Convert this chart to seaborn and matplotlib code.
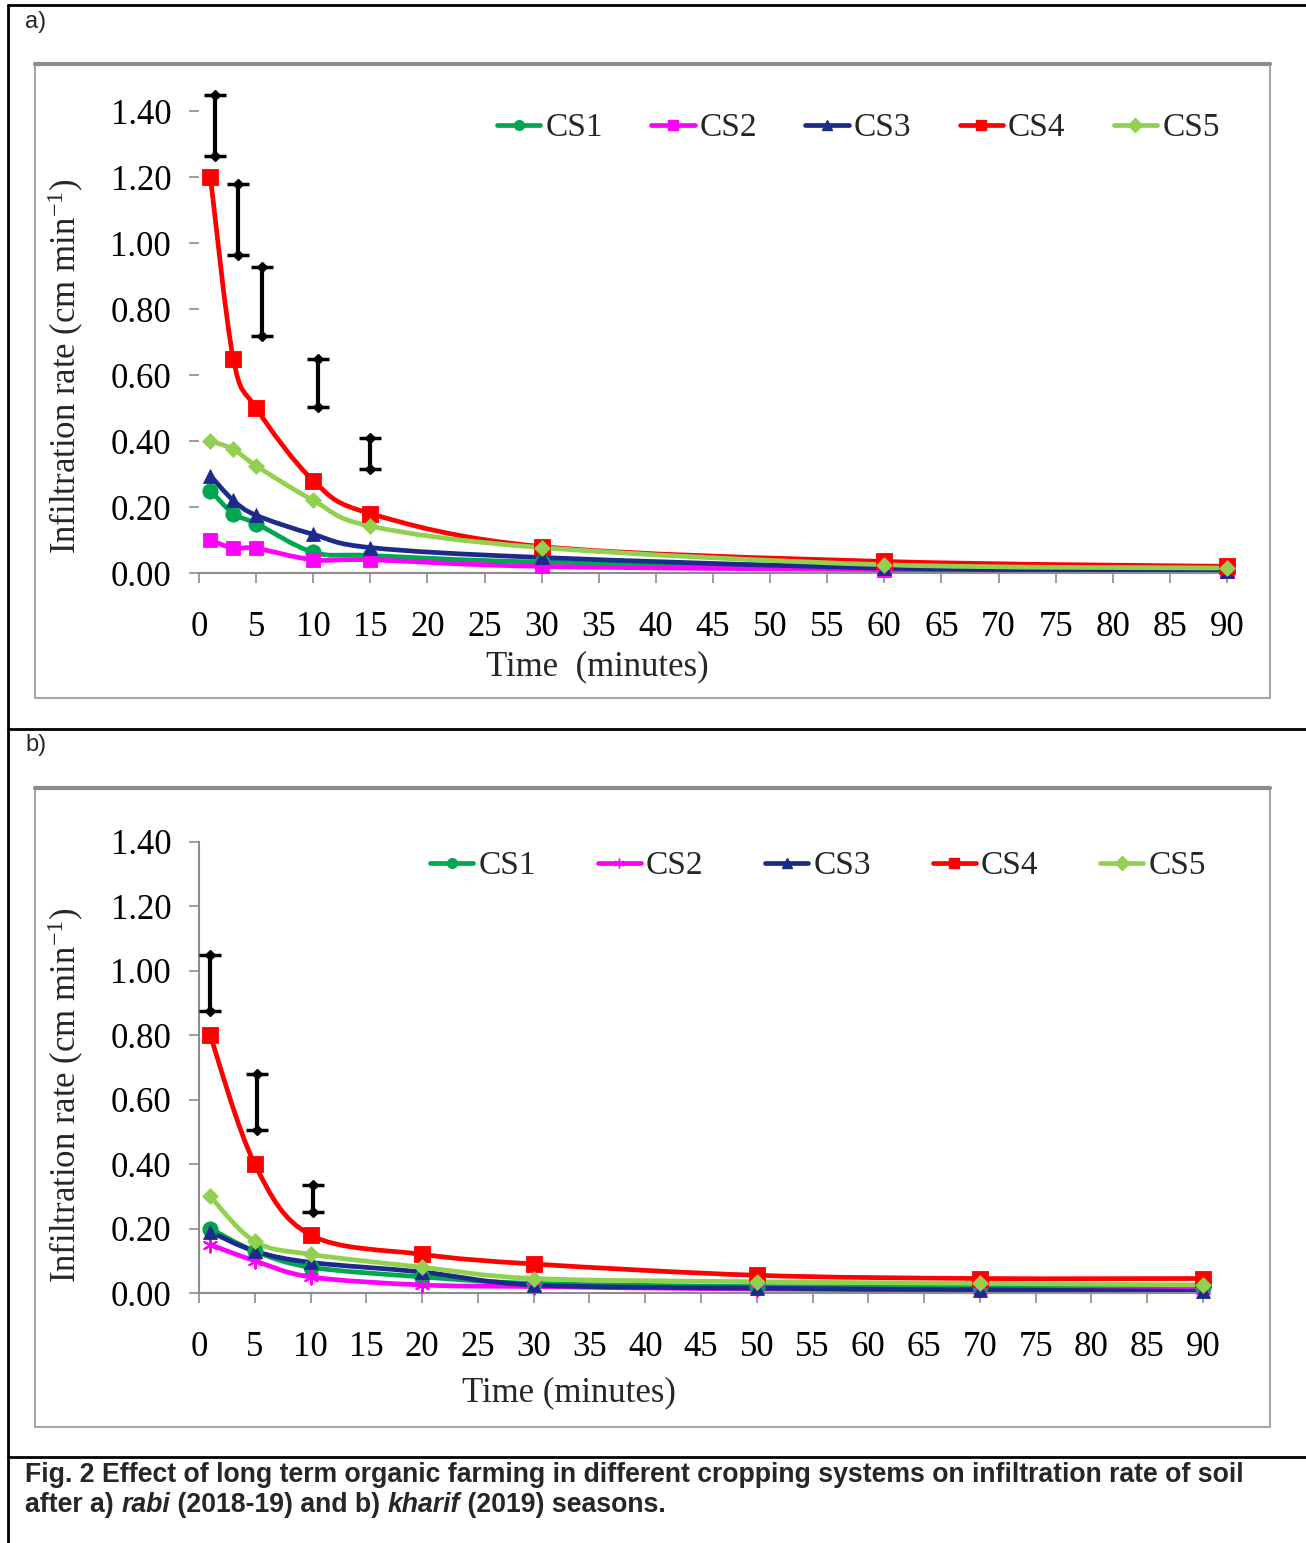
import numpy as np
import matplotlib
matplotlib.use("Agg")
import matplotlib.pyplot as plt
import seaborn as sns
import pandas as pd
from matplotlib.path import Path
from matplotlib.patches import PathPatch, Rectangle
from matplotlib.lines import Line2D

# ---------------- data ----------------
series_names = ["CS1", "CS2", "CS3", "CS4", "CS5"]

time_a = [1, 3, 5, 10, 15, 30, 60, 90]
cs1_a = [0.25, 0.18, 0.15, 0.063, 0.053, 0.033, 0.02, 0.01]
cs2_a = [0.10, 0.075, 0.075, 0.04, 0.04, 0.02, 0.01, 0.005]
cs3_a = [0.295, 0.22, 0.175, 0.117, 0.077, 0.047, 0.015, 0.005]
cs4_a = [1.20, 0.65, 0.50, 0.28, 0.18, 0.08, 0.035, 0.02]
cs5_a = [0.40, 0.375, 0.325, 0.22, 0.142, 0.077, 0.025, 0.015]
lsd_x_a = [1.4, 3.4, 5.5, 10.4, 15.0]
lsd_lo_a = [1.264, 0.964, 0.718, 0.504, 0.315]
lsd_hi_a = [1.448, 1.180, 0.928, 0.650, 0.410]

time_b = [1, 5, 10, 20, 30, 50, 70, 90]
cs1_b = [0.20, 0.13, 0.08, 0.05, 0.03, 0.02, 0.02, 0.015]
cs2_b = [0.15, 0.10, 0.05, 0.025, 0.02, 0.012, 0.01, 0.01]
cs3_b = [0.19, 0.13, 0.095, 0.065, 0.025, 0.015, 0.01, 0.005]
cs4_b = [0.80, 0.40, 0.18, 0.12, 0.09, 0.055, 0.045, 0.045]
cs5_b = [0.30, 0.16, 0.12, 0.08, 0.045, 0.035, 0.03, 0.025]
lsd_x_b = [1.0, 5.2, 10.2]
lsd_lo_b = [0.876, 0.506, 0.252]
lsd_hi_b = [1.050, 0.679, 0.335]

yticks = [0.0, 0.2, 0.4, 0.6, 0.8, 1.0, 1.2, 1.4]
xticks = list(range(0, 95, 5))

colors = {"CS1": "#00a651", "CS2": "#ff00ff", "CS3": "#1c2a8a",
          "CS4": "#ff0000", "CS5": "#92d050"}
markers_a = {"CS1": "o", "CS2": "s", "CS3": "^", "CS4": "s", "CS5": "D"}
markers_b = {"CS1": "o", "CS2": (6, 2, 0), "CS3": "^", "CS4": "s", "CS5": "D"}
msize = {"CS1": 11, "CS2": 10, "CS3": 10, "CS4": 12, "CS5": 8}

# ---------------- style ----------------
sns.set_theme(style="white")
plt.rcParams["font.family"] = ["Liberation Serif", "DejaVu Serif"]
plt.rcParams["mathtext.fontset"] = "custom"
plt.rcParams["mathtext.rm"] = "Liberation Serif"
plt.rcParams["mathtext.it"] = "Liberation Serif:italic"

W, H = 1306, 1543
fig = plt.figure(figsize=(W / 100, H / 100), dpi=100)
fig.patch.set_facecolor("white")


def fx(px):
    return px / W


def fy(py):
    return 1 - py / H


# page frame lines
frame_kw = dict(color="black", lw=2.0, transform=fig.transFigure)
fig.add_artist(Line2D([fx(8), 1], [fy(5), fy(5)], **frame_kw))
fig.add_artist(Line2D([fx(8), fx(8)], [fy(5), 0], **frame_kw))
fig.add_artist(Line2D([fx(8), 1], [fy(729), fy(729)], **frame_kw))
fig.add_artist(Line2D([fx(8), 1], [fy(1457), fy(1457)], **frame_kw))

# chart area boxes
for (x0, y0, x1, y1) in [(35, 64, 1270, 698), (35, 788, 1270, 1427)]:
    fig.add_artist(Rectangle((fx(x0), fy(y1)), fx(x1) - fx(x0), fy(y0) - fy(y1),
                             transform=fig.transFigure, fill=False,
                             edgecolor="#a6a6a6", lw=1.5))
    fig.add_artist(Line2D([fx(x0), fx(x1)], [fy(y0), fy(y0)], color="#8c8c8c",
                          lw=3, transform=fig.transFigure))

fig.text(fx(25), fy(22), "a)", family="Liberation Sans", fontsize=17,
         ha="left", va="center")
fig.text(fx(25), fy(745), "b)", family="Liberation Sans", fontsize=17,
         ha="left", va="center")


def smooth_path(xs, ys):
    pts = np.column_stack([xs, ys]).astype(float)
    n = len(pts)
    verts = [pts[0]]
    codes = [Path.MOVETO]
    for i in range(n - 1):
        p0 = pts[i - 1] if i > 0 else pts[i]
        p1 = pts[i]
        p2 = pts[i + 1]
        p3 = pts[i + 2] if i + 2 < n else pts[i + 1]
        c1 = p1 + (p2 - p0) / 6.0
        c2 = p2 - (p3 - p1) / 6.0
        verts += [c1, c2, p2]
        codes += [Path.CURVE4] * 3
    return Path(verts, codes)


def draw_panel(rect, times, data, markers, lsd_x, lsd_lo, lsd_hi,
               legend_x, legend_y, colspace, left_spine, xlabel, xlabel_pos,
               ylabel_pos):
    ax = fig.add_axes(rect)
    ax.set_facecolor("none")
    rows = []
    for name, vals in zip(series_names, data):
        for t, v in zip(times, vals):
            rows.append({"time": t, "rate": v, "system": name})
    df = pd.DataFrame(rows)
    for name, vals in zip(series_names, data):
        ax.add_patch(PathPatch(smooth_path(times, vals), fill=False,
                               edgecolor=colors[name], lw=3.4,
                               capstyle="round", joinstyle="round",
                               clip_on=False, zorder=2))
    for name in series_names:
        sub = df[df["system"] == name]
        sns.scatterplot(data=sub, x="time", y="rate", ax=ax,
                        marker=markers[name], s=msize[name] ** 2,
                        color=colors[name], edgecolor=colors[name],
                        linewidth=1.5 if (name == "CS2" and markers is markers_b) else 0.6,
                        legend=False, clip_on=False, zorder=3)
    # LSD bars
    lx = np.array(lsd_x)
    lo = np.array(lsd_lo)
    hi = np.array(lsd_hi)
    mid = (lo + hi) / 2
    ax.errorbar(lx, mid, yerr=[mid - lo, hi - mid], fmt="none", ecolor="black",
                elinewidth=3, capsize=8, capthick=2.5, clip_on=False, zorder=4)
    ax.plot(np.concatenate([lx, lx]), np.concatenate([lo, hi]), "D", color="black",
            markersize=5, linestyle="none", clip_on=False, zorder=4)

    ax.set_xlim(0, 90)
    ax.set_ylim(0, 1.4)
    ax.set_xticks(xticks)
    ax.set_xticklabels([str(t) for t in xticks])
    ax.set_yticks(yticks)
    ax.set_yticklabels([f"{v:.2f}" for v in yticks])
    ax.set_xlabel("")
    ax.set_ylabel("")
    for s in ["top", "right"]:
        ax.spines[s].set_visible(False)
    ax.spines["left"].set_visible(left_spine)
    ax.spines["bottom"].set_color("#8c8c8c")
    ax.spines["left"].set_color("#8c8c8c")
    ax.spines["bottom"].set_linewidth(1.5)
    ax.spines["left"].set_linewidth(1.5)
    ax.tick_params(axis="both", which="both", direction="out", length=7,
                   width=1.2, color="#8c8c8c", labelsize=25, labelcolor="black")
    ax.tick_params(axis="x", pad=20, bottom=True)
    ax.tick_params(axis="y", pad=13, left=True)

    fig.text(fx(xlabel_pos[0]), fy(xlabel_pos[1]), xlabel, fontsize=25,
             ha="center", va="center")
    fig.text(fx(ylabel_pos[0]), fy(ylabel_pos[1]),
             r"Infiltration rate (cm min$^{\mathregular{-1}}$)", fontsize=25,
             rotation=90, ha="center", va="center")

    handles = [Line2D([0], [0], color=colors[n], lw=3.4, marker=markers[n],
                      markersize=7, markeredgecolor=colors[n]) for n in series_names]
    ax.legend(handles, series_names, loc="center left", ncol=5, frameon=False,
              bbox_to_anchor=(fx(legend_x), fy(legend_y)),
              bbox_transform=fig.transFigure, fontsize=24, handlelength=1.3,
              handletextpad=0.15, columnspacing=colspace, borderpad=0,
              borderaxespad=0)
    return ax


rect_a = [fx(199), fy(573), fx(1227) - fx(199), fy(111) - fy(573)]
rect_b = [fx(199), fy(1293), fx(1203) - fx(199), fy(842) - fy(1293)]

draw_panel(rect_a, time_a, [cs1_a, cs2_a, cs3_a, cs4_a, cs5_a], markers_a,
           lsd_x_a, lsd_lo_a, lsd_hi_a, 497, 128, 1.45, False,
           "Time  (minutes)", (597, 667), (66, 366))
draw_panel(rect_b, time_b, [cs1_b, cs2_b, cs3_b, cs4_b, cs5_b], markers_b,
           lsd_x_b, lsd_lo_b, lsd_hi_b, 430, 866, 1.85, True,
           "Time (minutes)", (569, 1393), (66, 1095))

# caption
cap_kw = dict(family="Liberation Sans", fontsize=19.2, weight="bold",
              ha="left", va="center")
fig.text(fx(25), fy(1475),
         "Fig. 2 Effect of long term organic farming in different cropping systems on infiltration rate of soil",
         **cap_kw)
renderer = fig.canvas.get_renderer()
pieces = [("after a) ", "normal"), ("rabi", "italic"), (" (2018-19) and b) ", "normal"),
          ("kharif", "italic"), (" (2019) seasons.", "normal")]
xcur = 25.0
for txt, sty in pieces:
    t = fig.text(fx(xcur), fy(1505), txt, style=sty, **cap_kw)
    bb = t.get_window_extent(renderer=renderer)
    xcur += bb.width

fig.savefig("out.png", dpi=100, facecolor="white")
